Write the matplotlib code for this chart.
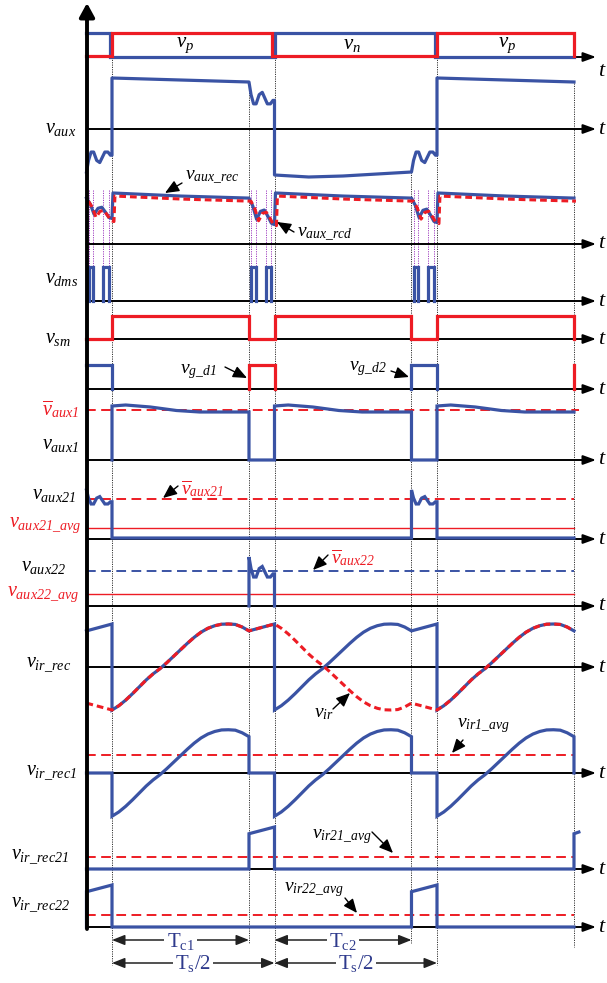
import numpy as np
import matplotlib
matplotlib.use('Agg')
import matplotlib.pyplot as plt

plt.rcParams['mathtext.fontset'] = 'custom'
plt.rcParams['mathtext.rm'] = 'Liberation Serif:italic'
plt.rcParams['mathtext.it'] = 'Liberation Serif:italic'
plt.rcParams['mathtext.sf'] = 'Liberation Serif'
plt.rcParams['mathtext.bf'] = 'Liberation Serif:bold'
plt.rcParams['font.family'] = ['Liberation Serif', 'DejaVu Sans']

BLUE = '#3A53A4'
RED = '#ED1C24'
NAVY = '#2E3A8C'
PURPLE = '#A040C0'

W, H = 607, 983

# ---------------- timing (Ts/2 = 1) ----------------
TC = 0.843                 # conduction interval Tc/(Ts/2)
T_START = TC - 1.0         # window starts in the previous dead time
T_END = 2.0 + TC
DT = 0.015                 # small dead time between vp and vn

# ---------------- waveform data (normalised) ----------------
VP_T = [T_START, 0, 0, 1 - DT, 1 - DT, 2, 2, T_END, T_END]
VP_V = [0.04, 0.04, 1, 1, 0.04, 0.04, 1, 1, 0.04]
VN_T = [T_START, -DT, -DT, 1, 1, 2 - DT, 2 - DT, T_END]
VN_V = [1, 1, 0, 0, 1, 1, 0, 0]

VSM_T = [T_START, 0, 0, TC, TC, 1, 1, 1 + TC, 1 + TC, 2, 2, T_END, T_END]
VSM_V = [0.02, 0.02, 1, 1, 0.02, 0.02, 1, 1, 0.02, 0.02, 1, 1, 0]

VG_PREV_T = [T_START, 0, 0]
VG_PREV_V = [1, 1, 0]
VGD1_T = [TC, TC, 1, 1]
VGD1_V = [0, 1, 1, 0]
VGD2_T = [1 + TC, 1 + TC, 2, 2]
VGD2_V = [0, 1, 1, 0]
VG_NEXT_T = [T_END, T_END]
VG_NEXT_V = [0, 1]

RING_TAU = [0.00, 0.08, 0.18, 0.28, 0.40, 0.52, 0.62, 0.72, 0.84, 0.94, 1.00]
RING_VAL = [0.00, 0.55, 0.95, 0.95, 0.55, 0.45, 0.70, 0.95, 0.95, 0.80, 0.80]

DIP_TAU = [0.00, 0.15, 0.30, 0.45, 0.60, 0.75, 0.88, 1.00]
DIP_VAL = [0.00, 0.30, 0.80, 0.50, 0.45, 0.70, 0.95, 1.00]

PLAT_TAU = [0.0, 0.25, 0.5, 0.75, 1.0]
VAUX_HI = [1.02, 1.00, 0.98, 0.96, 0.94]
VAUX_LO = [-0.92, -0.96, -0.94, -0.90, -0.86]
VAUX_RING = 0.42

VREC_HI = [1.00, 0.97, 0.94, 0.92, 0.90]
VREC_DIP = [0.40, 0.52, 0.48]
VRCD_HI = [0.94, 0.91, 0.88, 0.86, 0.84]
VRCD_DIP = [0.40, 0.48, 0.44]
VRCD_DELAY = 0.012

DMS_ON = [0.08, 0.65]
DMS_OFF = [0.27, 0.88]

VAUX1_TAU = [0.0, 0.1, 0.28, 0.47, 0.64, 0.85, 1.0]
VAUX1_HI = [1.08, 1.10, 1.06, 0.99, 0.96, 0.96, 0.96]
VAUX1_BAR = 1.0

VAUX21_RING = 0.30
VAUX21_BAR = 0.816
VAUX21_AVG = 0.224
VAUX22_RING = 0.43
VAUX22_BAR = 0.714
VAUX22_AVG = 0.245

IR_TAU = [0.00, 0.05, 0.10, 0.15, 0.20, 0.25, 0.30, 0.35, 0.40, 0.45, 0.50,
          0.55, 0.60, 0.65, 0.70, 0.75, 0.80, 0.85, 0.90, 0.95, 1.00]
IR_VAL = [-1.00, -0.90, -0.77, -0.62, -0.46, -0.30, -0.16, -0.04, 0.10, 0.25, 0.40,
          0.55, 0.69, 0.81, 0.90, 0.96, 0.995, 1.00, 0.99, 0.93, 0.84]
IR_DEAD_TAU = [0.0, 1.0]
IR_DEAD = [0.84, 1.00]
IR21_TAIL_T = [0.0, 0.03]
IR21_TAIL = [0.84, 0.88]
VIR1_AVG = 0.43
VIR21_AVG = 0.29
VIR22_AVG = 0.29

# ---------------- layout ----------------
X_PIX0, X_SCALE = 112.0, 162.5
def px2t(p):
    return (p - X_PIX0) / X_SCALE

XL = (px2t(0), px2t(W))
PANEL_BASE = [57, 129, 244, 301, 339, 389, 460, 539, 606, 667, 773, 869, 927]
PANEL_AMP = [24, 50, 51, 34, 23, 24, 50, 49, 49, 43, 42, 42, 42]

DEAD_WIN = [(T_START, 0.0), (TC, 1.0), (1 + TC, 2.0)]
COND_WIN = [(0.0, TC), (1.0, 1 + TC), (2.0, T_END)]

fig = plt.figure(figsize=(W / 100, H / 100), dpi=100)

ov = fig.add_axes([0, 0, 1, 1])
ov.set_xlim(XL); ov.set_ylim(H, 0); ov.axis('off'); ov.set_zorder(0)

EVENTS = [0, TC, 1, 1 + TC, 2, T_END]
VLINE_TOP = [57, 83, 57, 172, 57, 83]
VLINE_BOT = [965, 943, 965, 943, 965, 947]
for e, a, b in zip(EVENTS, VLINE_TOP, VLINE_BOT):
    ov.plot([e, e], [a, b], color='#333333', lw=0.7, ls=(0, (1.2, 1.2)))
for (w0, w1) in DEAD_WIN:
    for f in DMS_ON + DMS_OFF:
        x = w0 + f * (w1 - w0)
        ov.plot([x, x], [190, 267], color=PURPLE, lw=0.7, ls=(0, (1.2, 1.2)))

ARROWS = [((0, TC), 940, r'$\mathsf{T}_{\mathsf{c1}}$'), ((1, 1 + TC), 940, r'$\mathsf{T}_{\mathsf{c2}}$'),
          ((0, 1), 963, r'$\mathsf{T}_{\mathsf{s}}\mathsf{/2}$'), ((1, 2), 963, r'$\mathsf{T}_{\mathsf{s}}\mathsf{/2}$')]
for (a, b), y, s in ARROWS:
    ov.annotate('', xy=(a, y), xytext=(b, y),
                arrowprops=dict(arrowstyle='<|-|>,head_length=0.55,head_width=0.22', lw=1.1,
                                color='#222222', mutation_scale=14, shrinkA=0, shrinkB=0))
    ov.text((a + b) / 2, y + 1, s, ha='center', va='center', fontsize=15, color=NAVY,
            bbox=dict(facecolor='white', edgecolor='none', pad=1.5), zorder=5)


def mk_panel(i):
    base, amp = PANEL_BASE[i], PANEL_AMP[i]
    ax = fig.add_axes([0, (H - base - amp) / H, 1, 2 * amp / H])
    ax.set_xlim(XL); ax.set_ylim(-1, 1); ax.axis('off'); ax.patch.set_alpha(0)
    ax.set_zorder(2 + i * 0.01)
    ax.annotate('', xy=(px2t(596), 0), xytext=(T_START, 0),
                arrowprops=dict(arrowstyle='-|>,head_length=0.55,head_width=0.2', lw=1.4,
                                color='k', mutation_scale=14, shrinkA=0, shrinkB=0),
                zorder=1, annotation_clip=False)
    return ax


def seg(t0, t1, tau, val, scale=1.0, offset=0.0):
    return t0 + (t1 - t0) * np.asarray(tau), offset + scale * np.asarray(val, float)


def join(parts):
    return np.concatenate([p[0] for p in parts]), np.concatenate([p[1] for p in parts])


LW = 2.3
kw = dict(clip_on=False, solid_joinstyle='miter')

# 0: vp / vn
ax = mk_panel(0)
ax.plot(VN_T, VN_V, color=BLUE, lw=LW, **kw)
ax.plot(VP_T, VP_V, color=RED, lw=LW, **kw)

# 1: vaux
ax = mk_panel(1)
parts = [seg(*DEAD_WIN[0], RING_TAU, RING_VAL, VAUX_RING, VAUX_LO[-1]),
         seg(*COND_WIN[0], PLAT_TAU, VAUX_HI),
         seg(*DEAD_WIN[1], RING_TAU, RING_VAL, -VAUX_RING - 0.04, VAUX_HI[-1]),
         seg(*COND_WIN[1], PLAT_TAU, VAUX_LO),
         seg(*DEAD_WIN[2], RING_TAU, RING_VAL, VAUX_RING, VAUX_LO[-1]),
         seg(*COND_WIN[2], PLAT_TAU, VAUX_HI)]
ax.plot(*join(parts), color=BLUE, lw=LW, clip_on=False)

# 2: vaux_rec & vaux_rcd
ax = mk_panel(2)
parts = []
for k in range(3):
    parts.append(seg(*DEAD_WIN[k], DIP_TAU, DIP_VAL, -VREC_DIP[k], VREC_HI[-1]))
    parts.append(seg(COND_WIN[k][0] + 0.006, COND_WIN[k][1], PLAT_TAU, VREC_HI))
parts_r = []
for k in range(3):
    w0, w1 = DEAD_WIN[k]
    parts_r.append(seg(w0 + VRCD_DELAY, w1 + VRCD_DELAY, DIP_TAU, DIP_VAL, -VRCD_DIP[k], VRCD_HI[-1]))
    c0, c1 = COND_WIN[k]
    parts_r.append(seg(c0 + VRCD_DELAY + 0.006, c1 + VRCD_DELAY, PLAT_TAU, VRCD_HI))
ax.plot(*join(parts), color=BLUE, lw=LW, clip_on=False)
ax.plot(*join(parts_r), color=RED, lw=2.2, ls=(0, (2.2, 1.3)), clip_on=False)

# 3: vdms
ax = mk_panel(3)
for (w0, w1) in DEAD_WIN:
    for on, off in zip(DMS_ON, DMS_OFF):
        a = w0 + on * (w1 - w0); b = w0 + off * (w1 - w0)
        ax.plot([a, a, b, b], [0, 1, 1, 0], color=BLUE, lw=LW, **kw)

# 4: vsm
ax = mk_panel(4)
ax.plot(VSM_T, VSM_V, color=RED, lw=LW, **kw)

# 5: vg
ax = mk_panel(5)
ax.plot(VG_PREV_T, VG_PREV_V, color=BLUE, lw=LW, **kw)
ax.plot(VGD1_T, VGD1_V, color=RED, lw=LW, **kw)
ax.plot(VGD2_T, VGD2_V, color=BLUE, lw=LW, **kw)
ax.plot(VG_NEXT_T, VG_NEXT_V, color=RED, lw=LW, **kw)

# 6: vaux1
ax = mk_panel(6)
ax.plot([T_START, px2t(579)], [VAUX1_BAR] * 2, color=RED, lw=1.4, ls=(0, (5, 2.8)), clip_on=False)
parts = []
for k in range(3):
    c0, c1 = COND_WIN[k]
    parts.append((np.array([c0]), np.array([0.0])))
    parts.append(seg(c0, c1, VAUX1_TAU, VAUX1_HI))
    if k < 2:
        parts.append((np.array([c1, DEAD_WIN[k + 1][1]]), np.array([0.0, 0.0])))
ax.plot(*join(parts), color=BLUE, lw=LW, **kw)

# 7: vaux21
ax = mk_panel(7)
ax.plot([T_START, T_END], [VAUX21_BAR] * 2, color=RED, lw=1.4, ls=(0, (5, 2.8)), clip_on=False)
ax.plot([T_START, T_END], [VAUX21_AVG] * 2, color=RED, lw=1.0, clip_on=False)
parts = [seg(*DEAD_WIN[0], RING_TAU, RING_VAL, -VAUX21_RING, 1.0),
         (np.array([0.0, 1 + TC]), np.array([0.02, 0.02])),
         seg(*DEAD_WIN[2], RING_TAU, RING_VAL, -VAUX21_RING, 1.0),
         (np.array([2.0, T_END]), np.array([0.02, 0.02]))]
ax.plot(*join(parts), color=BLUE, lw=LW, **kw)

# 8: vaux22
ax = mk_panel(8)
ax.plot([T_START, T_END], [VAUX22_BAR] * 2, color=BLUE, lw=1.4, ls=(0, (5, 2.8)), clip_on=False)
ax.plot([T_START, T_END], [VAUX22_AVG] * 2, color=RED, lw=1.0, clip_on=False)
parts = [(np.array([TC]), np.array([0.0])),
         seg(*DEAD_WIN[1], RING_TAU, RING_VAL, -VAUX22_RING, 1.0),
         (np.array([1.0]), np.array([0.0]))]
ax.plot(*join(parts), color=BLUE, lw=LW, **kw)

# 9: vir_rec and vir
ax = mk_panel(9)
parts_b, parts_r = [], []
signs = [(-1, 1), (1, -1), (-1, 1)]
for k in range(3):
    sd, sc = signs[k]
    d = seg(*DEAD_WIN[k], IR_DEAD_TAU, IR_DEAD)
    c = seg(*COND_WIN[k], IR_TAU, IR_VAL)
    parts_b += [d, c]
    parts_r += [(d[0], sd * d[1]), (c[0], sc * c[1])]
ax.plot(*join(parts_b), color=BLUE, lw=LW, **kw)
ax.plot(*join(parts_r), color=RED, lw=2.2, ls=(0, (2.2, 1.3)), clip_on=False)

# 10: vir_rec1
ax = mk_panel(10)
ax.plot([T_START, T_END], [VIR1_AVG] * 2, color=RED, lw=1.4, ls=(0, (5, 2.8)), clip_on=False)
parts = []
for k in range(3):
    w0, w1 = DEAD_WIN[k]
    parts.append((np.array([w0, w1]), np.array([0.0, 0.0])))
    parts.append(seg(*COND_WIN[k], IR_TAU, IR_VAL, 1.03))
parts.append((np.array([T_END]), np.array([0.0])))
ax.plot(*join(parts), color=BLUE, lw=LW, **kw)

# 11: vir_rec21
ax = mk_panel(11)
ax.plot([T_START, T_END], [VIR21_AVG] * 2, color=RED, lw=1.4, ls=(0, (5, 2.8)), clip_on=False)
parts = [(np.array([T_START, TC]), np.array([0.0, 0.0])),
         seg(*DEAD_WIN[1], IR_DEAD_TAU, IR_DEAD),
         (np.array([1.0, T_END]), np.array([0.0, 0.0])),
         (T_END + np.asarray(IR21_TAIL_T), np.asarray(IR21_TAIL))]
ax.plot(*join(parts), color=BLUE, lw=LW, **kw)

# 12: vir_rec22
ax = mk_panel(12)
ax.plot([T_START, T_END], [VIR22_AVG] * 2, color=RED, lw=1.4, ls=(0, (5, 2.8)), clip_on=False)
parts = [(np.array([T_START]), np.array([0.0])),
         seg(*DEAD_WIN[0], IR_DEAD_TAU, IR_DEAD),
         (np.array([0.0, 1 + TC]), np.array([0.0, 0.0])),
         seg(*DEAD_WIN[2], IR_DEAD_TAU, IR_DEAD),
         (np.array([2.0, T_END]), np.array([0.0, 0.0]))]
ax.plot(*join(parts), color=BLUE, lw=LW, **kw)

# ---------------- text layer (pixel coordinates) ----------------
lay = fig.add_axes([0, 0, 1, 1])
lay.set_xlim(0, W); lay.set_ylim(H, 0); lay.axis('off'); lay.patch.set_alpha(0)
lay.set_zorder(10)

lay.annotate('', xy=(87, 3), xytext=(87, 929),
             arrowprops=dict(arrowstyle='-|>,head_length=0.55,head_width=0.3', lw=2.8, color='k',
                             mutation_scale=15, shrinkA=0, shrinkB=0))

T_LABEL_Y = [72] + PANEL_BASE[1:]
for y in T_LABEL_Y:
    lay.text(598, y, r'$t$', fontsize=16, ha='left', va='center')

TOP_LABELS = [(r'$v_p$', 185, 45), (r'$v_n$', 352, 45), (r'$v_p$', 507, 45)]
for s, x, y in TOP_LABELS:
    lay.text(x, y, s, fontsize=15, ha='center', va='center')

LABELS = [
    (r'$v_{aux}$', 45, 129, 'k'),
    (r'$v_{dms}$', 45, 279, 'k'),
    (r'$v_{sm}$', 45, 339, 'k'),
    (r'$\overline{v}_{aux1}$', 42, 409, RED),
    (r'$v_{aux1}$', 42, 445, 'k'),
    (r'$v_{aux21}$', 32, 495, 'k'),
    (r'$v_{aux21\_avg}$', 9, 525, RED),
    (r'$v_{aux22}$', 21, 567, 'k'),
    (r'$v_{aux22\_avg}$', 7, 594, RED),
    (r'$v_{ir\_rec}$', 26, 665, 'k'),
    (r'$v_{ir\_rec1}$', 26, 773, 'k'),
    (r'$v_{ir\_rec21}$', 11, 857, 'k'),
    (r'$v_{ir\_rec22}$', 11, 905, 'k'),
]
for s, x, y, c in LABELS:
    lay.text(x, y, s, fontsize=14.5, ha='left', va='center', color=c)

ANNOTS = [
    (r'$v_{aux\_rec}$', (185, 178), (182, 183), (165, 193), 'k'),
    (r'$v_{aux\_rcd}$', (297, 235), (294, 232), (277, 222), 'k'),
    (r'$v_{g\_d1}$', (180, 372), (225, 367), (247, 378), 'k'),
    (r'$v_{g\_d2}$', (349, 369), (391, 371), (409, 377), 'k'),
    (r'$\overline{v}_{aux21}$', (181, 489), (178, 486), (163, 498), RED),
    (r'$\overline{v}_{aux22}$', (331, 558), (328, 555), (313, 570), RED),
    (r'$v_{ir}$', (314, 714), (333, 709), (350, 693), 'k'),
    (r'$v_{ir1\_avg}$', (457, 726), (463, 740), (452, 753), 'k'),
    (r'$v_{ir21\_avg}$', (312, 837), (372, 832), (393, 853), 'k'),
    (r'$v_{ir22\_avg}$', (284, 890), (345, 898), (357, 913), 'k'),
]
for s, txy, a0, a1, c in ANNOTS:
    lay.text(*txy, s, fontsize=14, ha='left', va='center', color=c)
    lay.annotate('', xy=a1, xytext=a0,
                 arrowprops=dict(arrowstyle='-|>,head_length=0.7,head_width=0.3', lw=1.0,
                                 color='k', mutation_scale=12, shrinkA=0, shrinkB=0))

fig.savefig('out.png', dpi=100)
